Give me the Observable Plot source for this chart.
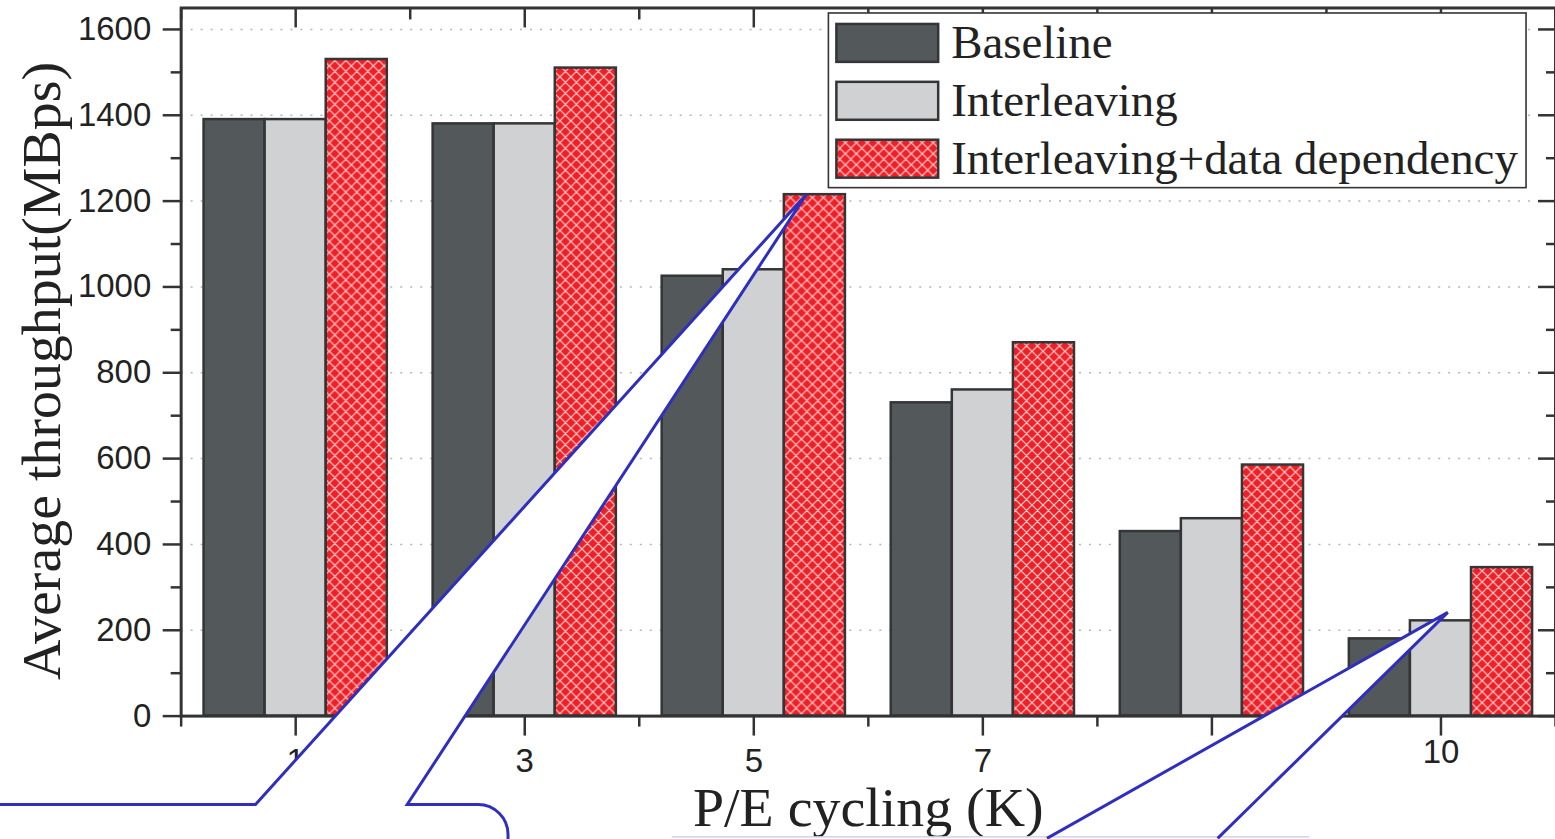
<!DOCTYPE html>
<html>
<head>
<meta charset="utf-8">
<script src="https://cdn.jsdelivr.net/npm/d3@7"></script>
<script src="https://cdn.jsdelivr.net/npm/@observablehq/plot@0.6"></script>
<style>
  html, body { margin: 0; padding: 0; overflow: hidden; background: #fff; }
  #chart { width: 1555px; height: 839px; overflow: hidden; }
</style>
</head>
<body>
<div id="chart"></div>
<script>
// ---- data ----
const groups = ["1", "3", "5", "7", "9", "10"];
const series = ["Baseline", "Interleaving", "Interleaving+data dependency"];
const baseline = [1390, 1380, 1025, 730, 430, 180];
const interleaving = [1390, 1380, 1040, 760, 460, 222];
const dataDependency = [1530, 1510, 1215, 870, 585, 346];
const yMajor = [0, 200, 400, 600, 800, 1000, 1200, 1400, 1600];
const yMinor = [100, 300, 500, 700, 900, 1100, 1300, 1500];
const xTitle = "P/E cycling (K)";
const yTitle = "Average throughput(MBps)";

const values = [baseline, interleaving, dataDependency];
const fills = ["#53585b", "#d0d1d3", "url(#hatch)"];
const groupPos = groups.map((g, i) => i + 1);
const groupEdges = [0.5, ...groupPos.map(p => p + 0.5)];
const barW = 0.8 / series.length;

const table = groups.flatMap((g, i) =>
  series.map((s, k) => ({
    group: g, series: s, k,
    x1: i + 1 - 0.4 + k * barW,
    x2: i + 1 - 0.4 + (k + 1) * barW,
    value: values[k][i]
  }))
);

const serif = "'Liberation Serif', 'Times New Roman', serif";
const ink = "#333";

const plot = Plot.plot({
  width: 1558,
  height: 839,
  marginLeft: 181,
  marginRight: 0,
  marginTop: 7.5,
  marginBottom: 122,
  x: { domain: [0.5, 6.5] },
  y: { domain: [0, 1650] },
  style: { fontFamily: "'Liberation Sans', Arial, sans-serif", color: ink, background: "#fff", overflow: "visible" },
  marks: [
    Plot.gridY(yMajor.filter(d => d > 0), { stroke: "#b5b5b5", strokeOpacity: 1, strokeWidth: 1.5, strokeDasharray: "2,8" }),
    ...series.map((s, k) =>
      Plot.rect(table.filter(d => d.k === k), {
        x1: "x1", x2: "x2", y1: 0, y2: "value",
        fill: fills[k], stroke: "#333537", strokeWidth: 2.5
      })
    ),
    Plot.frame({ stroke: ink, strokeWidth: 3 }),
    Plot.axisY(yMajor, { anchor: "left", tickSize: 18, tickPadding: 12, fontSize: 33, tickFormat: d => String(d), label: null, strokeWidth: 2.5, fill: "#222" }),
    Plot.axisY(yMinor, { anchor: "left", tickSize: 10, text: null, label: null, strokeWidth: 2.5 }),
    Plot.axisY(yMajor, { anchor: "right", tickSize: 18, dx: -18, text: null, label: null, strokeWidth: 2.5 }),
    Plot.axisY(yMinor, { anchor: "right", tickSize: 10, dx: -10, text: null, label: null, strokeWidth: 2.5 }),
    Plot.axisX(groupPos, { anchor: "bottom", tickSize: 20, tickPadding: 13, fontSize: 33, tickFormat: p => groups[p - 1], label: null, strokeWidth: 2.5, fill: "#222" }),
    Plot.axisX(groupEdges, { anchor: "bottom", tickSize: 11, text: null, label: null, strokeWidth: 2.5 }),
    Plot.axisX(groupPos, { anchor: "top", tickSize: 19, dy: 19, text: null, label: null, strokeWidth: 2.5 }),
    Plot.axisX(groupEdges, { anchor: "top", tickSize: 11, dy: 11, text: null, label: null, strokeWidth: 2.5 }),
    Plot.text([xTitle], { text: d => d, frameAnchor: "bottom", lineAnchor: "middle", textAnchor: "middle", dy: 92, fontSize: 56, fontFamily: serif, fill: "#222" }),
    Plot.text([yTitle], { text: d => d, frameAnchor: "left", lineAnchor: "middle", textAnchor: "middle", rotate: -90, dx: -139, dy: 9, fontSize: 56, fontFamily: serif, fill: "#222" })
  ]
});

document.getElementById("chart").appendChild(plot);

const svg = d3.select(plot);
const xs = plot.scale("x");
const ys = plot.scale("y");

// hatch pattern for the third series
const defs = svg.insert("defs", ":first-child");
const P = 11;
const pat = defs.append("pattern")
  .attr("id", "hatch").attr("patternUnits", "userSpaceOnUse")
  .attr("width", P).attr("height", P);
pat.append("rect").attr("width", P).attr("height", P).attr("fill", "#ee1f26");
pat.append("path").attr("d", `M0,0L${P},${P}M${P},0L0,${P}M-1,${P - 1}L1,${P + 1}M${P - 1},-1L${P + 1},1M-1,1L1,-1M${P - 1},${P + 1}L${P + 1},${P - 1}`)
  .attr("stroke", "#ffd2d2").attr("stroke-width", 1.2).attr("fill", "none");

// nudge the "10" tick label up like in the reference
svg.selectAll("text").filter(function () { return this.textContent === "10"; })
  .each(function () {
    const t = this.getAttribute("transform") || "";
    this.setAttribute("transform", t + " translate(0,-9)");
  });

// legend
const lg = svg.append("g").attr("text-anchor", "start");
lg.append("rect").attr("x", 830).attr("y", 13).attr("width", 699).attr("height", 175)
  .attr("fill", "#fff").attr("stroke", ink).attr("stroke-width", 1.6);
series.forEach((s, k) => {
  const y0 = 24 + k * 58;
  lg.append("rect").attr("x", 838).attr("y", y0).attr("width", 102).attr("height", 38)
    .attr("fill", fills[k]).attr("stroke", "#333537").attr("stroke-width", 2.5);
  lg.append("text").attr("x", 953).attr("y", y0 + 34).text(s)
    .attr("text-anchor", "start")
    .attr("font-family", serif).attr("font-size", 47).attr("fill", "#222");
});

// callouts (white speech bubbles with blue outline)
const blue = "#2e2fbf";
const bw = xs.apply(1 + barW) - xs.apply(1);
const tipA = [xs.apply(table.find(d => d.group === "5" && d.k === 2).x1) + bw * 0.37, ys.apply(1215)];
const tipB = [xs.apply(table.find(d => d.group === "10" && d.k === 1).x1) + bw * 0.62, ys.apply(222) - 8];

const cA = svg.append("g");
cA.append("path")
  .attr("d", `M-20,806 L256,806 L${tipA[0]},${tipA[1]} L408,806 L479,806 A30,30 0 0 1 509,836 L509,860 L-20,860 Z`)
  .attr("fill", "#fff").attr("stroke", "none");
cA.append("path")
  .attr("d", `M-20,806 L256,806 L${tipA[0]},${tipA[1]} L408,806 L479,806 A30,30 0 0 1 509,836 L509,860`)
  .attr("fill", "none").attr("stroke", blue).attr("stroke-width", 3).attr("stroke-linejoin", "miter");

const cB = svg.append("g");
cB.append("path")
  .attr("d", `M673,838 L1049,838 L${tipB[0]},${tipB[1]} L1220,838 L1312,838 L1312,860 L673,860 Z`)
  .attr("fill", "#fff").attr("stroke", "none");
cB.append("path").attr("d", "M673,838.5 L1312,838.5")
  .attr("stroke", "#c9c9f0").attr("stroke-width", 1.5);
cB.append("path")
  .attr("d", `M1049,840 L${tipB[0]},${tipB[1]} L1220,840`)
  .attr("fill", "none").attr("stroke", blue).attr("stroke-width", 3);
</script>
</body>
</html>
